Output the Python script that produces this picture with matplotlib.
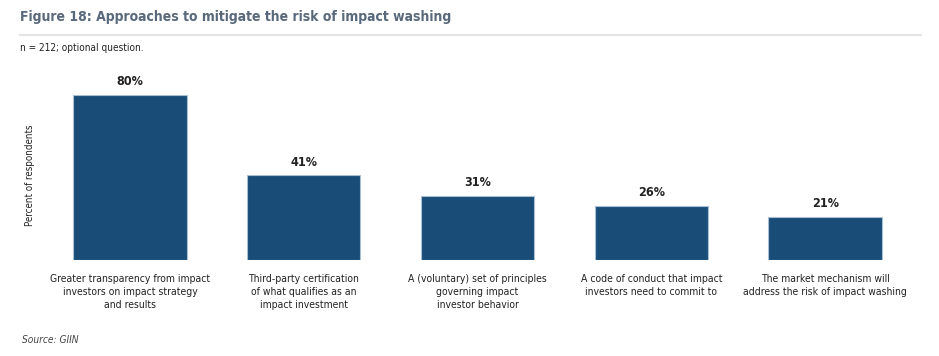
import matplotlib.pyplot as plt
import numpy as np

categories = [
    "Greater transparency from impact\ninvestors on impact strategy\nand results",
    "Third-party certification\nof what qualifies as an\nimpact investment",
    "A (voluntary) set of principles\ngoverning impact\ninvestor behavior",
    "A code of conduct that impact\ninvestors need to commit to",
    "The market mechanism will\naddress the risk of impact washing",
]
values = [80, 41, 31, 26, 21]

plt.rcParams['font.family'] = ['DejaVu Sans']
plt.rcParams['font.stretch'] = 'condensed'

fig = plt.figure(figsize=(9.39, 3.56), dpi=100)
ax = fig.add_axes([0.0458, 0.2697, 0.9255, 0.579])

x = np.arange(len(values))
ax.bar(x, values, width=0.653, color='#194d78', edgecolor='#a9bfd4', linewidth=0.8)
for xi, v in zip(x, values):
    ax.annotate(f"{v}%", (xi, v), xytext=(0, 5), textcoords='offset points',
                ha='center', va='bottom', fontsize=9, fontweight='bold', color='#222222')

ax.set_xlim(-0.5, len(values) - 0.5)
ax.set_ylim(0, 100)
ax.set_xticks(x)
ax.set_xticklabels(categories, fontsize=7.5, color='#222222', linespacing=1.4)
ax.tick_params(axis='x', length=0, pad=10)
ax.set_yticks([])
for s in ax.spines.values():
    s.set_visible(False)

fig.text(0.021, 0.953, "Figure 18: Approaches to mitigate the risk of impact washing",
         fontsize=10, fontweight='bold', color='#58697b', va='center')
fig.add_artist(plt.Line2D([0.021, 0.981], [0.902, 0.902], transform=fig.transFigure,
                          color='#e4e4e4', linewidth=1.5))
fig.text(0.021, 0.865, "n = 212; optional question.", fontsize=7.2, color='#222222', va='center')
fig.text(0.032, 0.508, "Percent of respondents", rotation=90, fontsize=7,
         color='#222222', va='center', ha='center')
fig.text(0.023, 0.045, "Source: GIIN", fontsize=7.3, style='italic', color='#444444', va='center')

fig.savefig("out.png", dpi=100)
